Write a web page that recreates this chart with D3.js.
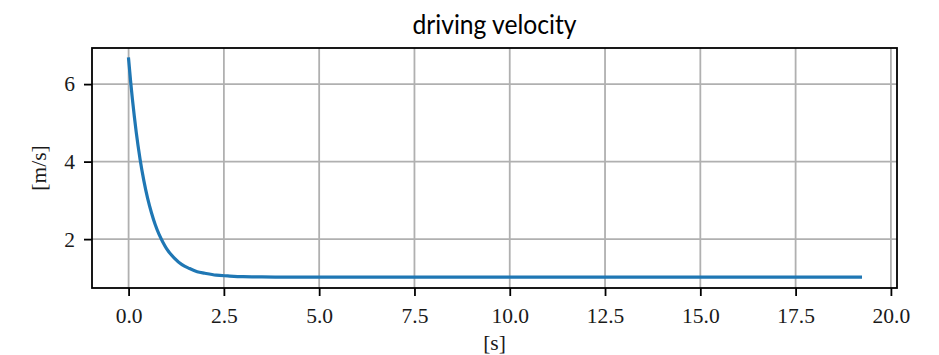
<!DOCTYPE html>
<html>
<head>
<meta charset="utf-8">
<script src="https://cdn.jsdelivr.net/npm/d3@7"></script>
<style>
  html, body { margin: 0; padding: 0; background: #fff; }
</style>
</head>
<body>
<div id="svg-container"></div>
<script>
"use strict";
// values
const time = [0, 0.05, 0.1, 0.15, 0.2, 0.3, 0.4, 0.5, 0.6, 0.7, 0.8, 0.9, 1.0, 1.2, 1.4, 1.6, 1.8, 2.0, 2.3, 2.6, 3.0, 3.5, 4.0, 5.0, 7.5, 10.0, 12.5, 15.0, 17.5, 19.2];
const velocity = [6.65, 6.10, 5.61, 5.17, 4.76, 4.07, 3.51, 3.05, 2.68, 2.37, 2.12, 1.92, 1.75, 1.51, 1.34, 1.24, 1.16, 1.12, 1.07, 1.05, 1.03, 1.024, 1.02, 1.02, 1.02, 1.02, 1.02, 1.02, 1.02, 1.02];
const xTicks = [0, 2.5, 5, 7.5, 10, 12.5, 15, 17.5, 20];
const yTicks = [2, 4, 6];
const title = "driving velocity";
const xLabel = "[s]";
const yLabel = "[m/s]";

const serif = "'Liberation Serif', 'Times New Roman', 'DejaVu Serif', serif";
const width = 939;
const height = 355;
const margin = { top: 48, right: 42, bottom: 67, left: 92 };
const plotW = width - margin.left - margin.right;
const plotH = height - margin.top - margin.bottom;

const data = time.map((t, i) => ({ t: t, v: velocity[i] }));

// matplotlib style 5% padding
const pad = (ext) => {
    const r = ext[1] - ext[0];
    return [ext[0] - 0.05 * r, ext[1] + 0.05 * r];
};
const x = d3.scaleLinear().domain(pad(d3.extent(time))).range([0, plotW]);
const y = d3.scaleLinear().domain(pad(d3.extent(velocity))).range([plotH, 0]);

const svg = d3.select("#svg-container")
    .append("svg")
    .attr("width", width)
    .attr("height", height);

svg.append("rect")
    .attr("width", width)
    .attr("height", height)
    .attr("fill", "#fff");

const g = svg.append("g")
    .attr("transform", `translate(${margin.left},${margin.top})`);

// grid
g.append("g")
    .selectAll("line")
    .data(xTicks)
    .enter()
    .append("line")
    .attr("x1", d => x(d))
    .attr("x2", d => x(d))
    .attr("y1", 0)
    .attr("y2", plotH)
    .attr("stroke", "#b0b0b0")
    .attr("stroke-width", 1.8);
g.append("g")
    .selectAll("line")
    .data(yTicks)
    .enter()
    .append("line")
    .attr("y1", d => y(d))
    .attr("y2", d => y(d))
    .attr("x1", 0)
    .attr("x2", plotW)
    .attr("stroke", "#b0b0b0")
    .attr("stroke-width", 1.8);

// curve
const line = d3.line()
    .x(d => x(d.t))
    .y(d => y(d.v))
    .curve(d3.curveMonotoneX);
g.append("path")
    .datum(data)
    .attr("d", line)
    .attr("fill", "none")
    .attr("stroke", "#1f77b4")
    .attr("stroke-width", 3.2)
    .attr("stroke-linecap", "square");

// axes
const xAxis = g.append("g")
    .attr("transform", `translate(0,${plotH})`)
    .call(d3.axisBottom(x).tickValues(xTicks).tickFormat(d3.format(".1f")).tickSize(8).tickPadding(9).tickSizeOuter(0));
const yAxis = g.append("g")
    .call(d3.axisLeft(y).tickValues(yTicks).tickFormat(d3.format("d")).tickSize(8).tickPadding(9).tickSizeOuter(0));
[xAxis, yAxis].forEach(a => {
    a.attr("font-family", null);
    a.select(".domain").remove();
    a.selectAll(".tick line").attr("stroke", "#000").attr("stroke-width", 1.8);
    a.selectAll(".tick text")
        .style("font-family", serif)
        .style("font-size", "21.5px")
        .attr("fill", "#1a1a1a");
});
xAxis.selectAll(".tick text").attr("dy", "0.85em");

// frame
g.append("rect")
    .attr("width", plotW)
    .attr("height", plotH)
    .attr("fill", "none")
    .attr("stroke", "#000")
    .attr("stroke-width", 1.8);

// title and labels
svg.append("text")
    .attr("x", margin.left + plotW / 2)
    .attr("y", 34)
    .attr("text-anchor", "middle")
    .style("font-family", "Lato, 'DejaVu Sans', sans-serif")
    .style("font-size", "26px")
    .attr("textLength", 164)
    .attr("lengthAdjust", "spacingAndGlyphs")
    .attr("fill", "#000")
    .text(title);

svg.append("text")
    .attr("x", margin.left + plotW / 2)
    .attr("y", 350)
    .attr("text-anchor", "middle")
    .style("font-family", serif)
    .style("font-size", "21.5px")
    .attr("fill", "#1a1a1a")
    .text(xLabel);

svg.append("text")
    .attr("transform", `translate(46,${margin.top + plotH / 2}) rotate(-90)`)
    .attr("text-anchor", "middle")
    .style("font-family", serif)
    .style("font-size", "21.5px")
    .attr("fill", "#1a1a1a")
    .text(yLabel);
</script>
</body>
</html>
